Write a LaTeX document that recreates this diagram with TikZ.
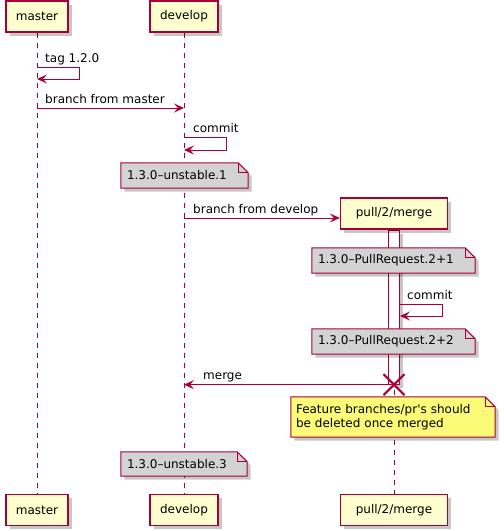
\documentclass[tikz,border=0pt]{standalone}
\usepackage{fontspec}
\setmainfont{DejaVu Sans}[Ligatures=TeXOff]
\usetikzlibrary{arrows.meta,shadows,shapes.misc}

\definecolor{umlred}{HTML}{A80036}
\definecolor{partfill}{HTML}{FEFECE}
\definecolor{greynote}{HTML}{D3D3D3}
\definecolor{yellownote}{HTML}{FBFB77}

\pgfdeclarelayer{lines}
\pgfdeclarelayer{shapes}
\pgfsetlayers{lines,shapes,main}

\tikzset{
  font=\fontsize{12}{14.5}\selectfont,
  softshadow/.style={drop shadow={shadow xshift=3.5pt,shadow yshift=-3.5pt,fill=black,opacity=0.22}},
  participant/.style={draw=umlred, line width=1.3pt, fill=partfill, minimum height=31pt, inner sep=0pt, softshadow},
  lifeline/.style={draw=umlred, line width=0.9pt, dash pattern=on 5pt off 5pt},
  activation/.style={draw=umlred, line width=1pt, fill=white, minimum width=11pt, minimum height=154pt, inner sep=0pt, softshadow},
  msg/.style={draw=umlred, line width=1pt, -{Stealth[length=10pt,width=9pt,inset=4pt]}},
  msglabel/.style={anchor=base west, inner sep=0pt, text=black},
  notetext/.style={inner ysep=0pt, inner xsep=6pt, align=left},
  noteline/.style={draw=umlred, line width=1pt, softshadow},
}

% outline of a note with a folded top-right corner, drawn behind its text
\newcommand\foldnote[2]{%
  \begin{pgfonlayer}{shapes}
    \draw[noteline, fill=#2] (#1.south west) -- (#1.north west)
      -- ([xshift=-10pt]#1.north east) -- ([yshift=-10pt]#1.north east)
      -- (#1.south east) -- cycle;
    \draw[draw=umlred, line width=1pt] ([xshift=-10pt]#1.north east) |- ([yshift=-10pt]#1.north east);
  \end{pgfonlayer}}

\begin{document}
\begin{tikzpicture}[x=1pt,y=-1pt]
\useasboundingbox (0,0) rectangle (504,531);

% participants, head and foot
\node[participant, minimum width=62pt]  (mastertop)  at (37,16.5)  {master};
\node[participant, minimum width=68pt]  (developtop) at (184,16.5) {develop};
\node[participant, minimum width=62pt]  (masterbot)  at (37,510)   {master};
\node[participant, minimum width=68pt]  (developbot) at (184,510)  {develop};
\node[participant, minimum width=107pt] (pulltop)    at (394,213.5) {pull/2/merge};
\node[participant, minimum width=107pt] (pullbot)    at (394,510)  {pull/2/merge};

% lifelines
\begin{pgfonlayer}{lines}
  \draw[lifeline] (mastertop) -- (masterbot);
  \draw[lifeline] (developtop) -- (developbot);
  \draw[lifeline] (pulltop) -- (pullbot);
\end{pgfonlayer}

% activation of pull/2/merge and its destruction
\begin{pgfonlayer}{shapes}
  \node[activation, anchor=north] (activ) at (pulltop.south) {};
\end{pgfonlayer}
\node[cross out, draw=umlred, line width=2pt, minimum size=19pt, inner sep=0pt] (destroy) at (activ.south) {};

% tag 1.2.0
\coordinate (tagout)  at (mastertop |- 0,67);
\coordinate (tagback) at (mastertop |- 0,79);
\draw[msg] (tagout) -- ++(42,0) |- (tagback);
\node[msglabel] (tagl) at (45,62.5) {tag 1.2.0};

% branch from master
\coordinate (bmfrom) at (mastertop |- 0,108);
\coordinate (bmto)   at (developtop |- 0,108);
\draw[msg] (bmfrom) -- (bmto);
\node[msglabel] (bml) at (45,103.5) {branch from master};

% commit on develop
\coordinate (c1out)  at (developtop |- 0,137);
\coordinate (c1back) at (developtop |- 0,150);
\draw[msg] (c1out) -- ++(42,0) |- (c1back);
\node[msglabel] (c1l) at (193,132.5) {commit};

% note on develop
\node[notetext, minimum width=127pt, text width=115pt, minimum height=25pt] (unst1) at (184.5,175.5) {1.3.0–unstable.1};
\foldnote{unst1}{greynote}

% branch from develop
\coordinate (bdfrom) at (developtop |- 0,218);
\coordinate (bdto)   at (pulltop.west |- 0,218);
\draw[msg] (bdfrom) -- (bdto);
\node[msglabel] (bdl) at (193,213.5) {branch from develop};

% first pull request note
\node[notetext, minimum width=163pt, text width=151pt, minimum height=25pt] (pr1) at (393.5,260.5) {1.3.0–PullRequest.2+1};
\foldnote{pr1}{greynote}

% commit on pull/2/merge
\coordinate (c2out)  at (activ.east |- 0,304);
\coordinate (c2back) at (activ.east |- 0,316);
\draw[msg] (c2out) -- ++(42,0) |- (c2back);
\node[msglabel] (c2l) at (407,299.5) {commit};

% second pull request note
\node[notetext, minimum width=163pt, text width=151pt, minimum height=25pt] (pr2) at (393.5,341.5) {1.3.0–PullRequest.2+2};
\foldnote{pr2}{greynote}

% merge back to develop
\draw[msg] (destroy.center) -- (developtop |- destroy.center);
\node[msglabel] (mergel) at (203,379) {merge};

% explanatory note
\node[notetext, inner xsep=5pt, minimum width=204pt, text width=194pt, minimum height=40pt] (feat) at (393,417)
  {Feature branches/pr's should\\be deleted once merged};
\foldnote{feat}{yellownote}

% final develop note
\node[notetext, minimum width=126pt, text width=114pt, minimum height=24pt] (unst3) at (184,464) {1.3.0–unstable.3};
\foldnote{unst3}{greynote}

\end{tikzpicture}
\end{document}
